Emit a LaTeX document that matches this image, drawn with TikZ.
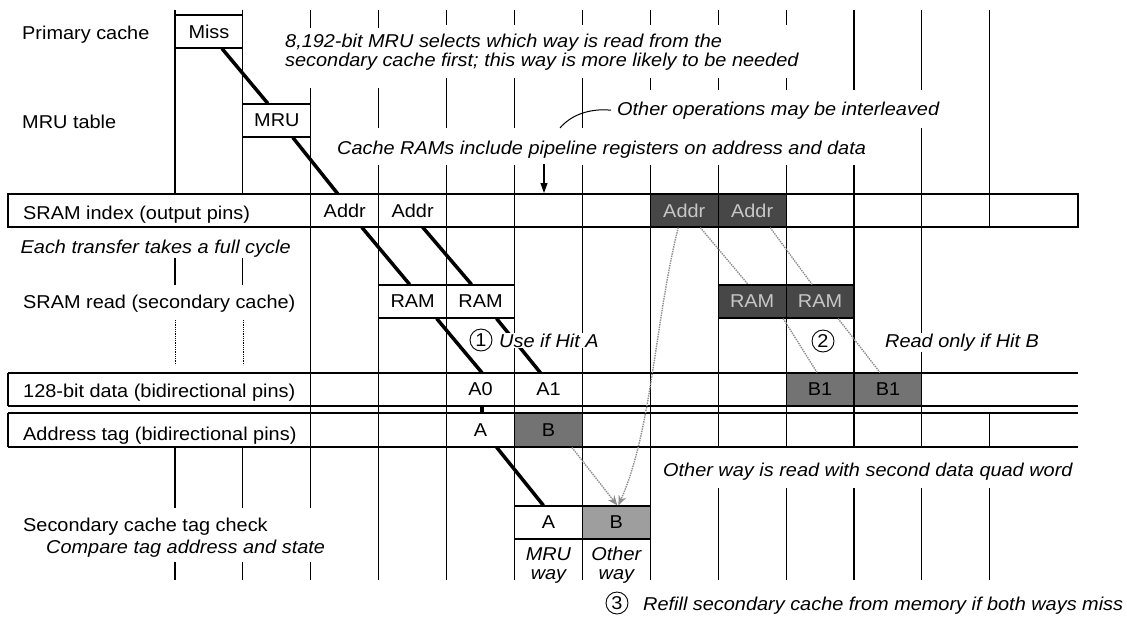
\documentclass[tikz,border=0pt]{standalone}
\usepackage{fontspec}
\setmainfont{Liberation Sans}[FakeStretch=1.07]
\usetikzlibrary{arrows.meta,calc}
\begin{document}
\begin{tikzpicture}[x=1pt,y=-1pt,
  every node/.style={font=\fontsize{18.6}{19}\selectfont, inner sep=0pt},
  grid/.style={line width=1.1pt, black},
  rowline/.style={line width=1.1pt, black},
  cell/.style={minimum width=67.9pt, minimum height=33pt, inner sep=0pt},
  bcell/.style={cell, draw, line width=1.1pt, fill=white},
  dark/.style={cell, draw, line width=1.1pt, fill=black!72, text=black!22},
  mid/.style={cell, draw, line width=1.1pt, fill=black!55},
  light/.style={cell, draw, line width=1.1pt, fill=black!38},
  lbl/.style={anchor=base west},
  note/.style={anchor=base west, font=\fontsize{18.6}{19}\selectfont\itshape},
  wnote/.style={note, fill=white, inner xsep=2pt, inner ysep=1pt},
  heavy/.style={line width=3.5pt},
  gline/.style={line width=1.4pt, black!45, densely dotted},
  garrow/.style={gline, -{Stealth[length=10pt,width=8pt]}},
  num/.style={circle, draw, line width=0.9pt, minimum size=22pt, inner sep=0pt},
  wayl/.style={anchor=base, align=center, font=\fontsize{18.6}{19}\selectfont\itshape},
]
\useasboundingbox (0,0) rectangle (1127,619);

% ---- vertical grid segments ----
\foreach \x in {175,242.9}{
  \draw[grid] (\x,10) -- (\x,194);
  \draw[grid] (\x,258) -- (\x,285);
  \draw[line width=0.8pt, densely dotted] (\x,320) -- (\x,365);
  \draw[grid] (\x,447) -- (\x,508);
  \draw[grid] (\x,562) -- (\x,580);
}
\draw[grid] (310.8,10) -- (310.8,28) (310.8,88) -- (310.8,508) (310.8,562) -- (310.8,580);
\draw[grid] (378.7,10) -- (378.7,28) (378.7,88) -- (378.7,128) (378.7,165) -- (378.7,580);
\foreach \x in {446.6,514.5,582.4}{
  \draw[grid] (\x,10) -- (\x,25) (\x,78) -- (\x,128) (\x,165) -- (\x,580);
}
\draw[grid] (650.3,10) -- (650.3,25) (650.3,78) -- (650.3,90) (650.3,165) -- (650.3,580);
\foreach \x in {718.2,786.1}{
  \draw[grid] (\x,10) -- (\x,25) (\x,78) -- (\x,90) (\x,165) -- (\x,447) (\x,488) -- (\x,580);
}
\draw[grid] (854,10) -- (854,90) (854,165) -- (854,447) (854,488) -- (854,580);
\draw[grid] (921.9,10) -- (921.9,90) (921.9,128) -- (921.9,447) (921.9,488) -- (921.9,580);
\draw[grid] (989.8,10) -- (989.8,227) (989.8,413) -- (989.8,447) (989.8,488) -- (989.8,580);

% ---- row boxes ----
\draw[rowline] (8,194) rectangle (1078,227);
\draw[rowline] (8,373) -- (1078,373) (8,406) -- (1078,406) (8,373) -- (8,406);
\draw[rowline] (8,413) -- (1078,413) (8,447) -- (1078,447) (8,413) -- (8,447);

% ---- cells ----
\node[bcell] (miss) at (208.95,31.5) {Miss};
\node[bcell] (mru) at (276.85,120.5) {MRU};
\node[cell] (addr1) at (344.75,210.5) {Addr};
\node[cell] (addr2) at (412.65,210.5) {Addr};
\node[dark] (addrb1) at (684.25,210.5) {Addr};
\node[dark] (addrb2) at (752.15,210.5) {Addr};
\node[bcell] (ram1) at (412.65,301.5) {RAM};
\node[bcell] (ram2) at (480.55,301.5) {RAM};
\node[dark] (ramb1) at (752.15,301.5) {RAM};
\node[dark] (ramb2) at (820.05,301.5) {RAM};
\node[cell] (a0) at (480.55,389.5) {A0};
\node[cell] (a1) at (548.45,389.5) {A1};
\node[mid] (b1a) at (820.05,389.5) {B1};
\node[mid] (b1b) at (887.95,389.5) {B1};
\node[cell, minimum height=34pt] (ta) at (480.55,430) {A};
\node[mid, minimum height=34pt] (tb) at (548.45,430) {B};
\node[bcell] (ca) at (548.45,522.5) {A};
\node[light] (cb) at (616.35,522.5) {B};

% ---- heavy path of MRU way ----
\draw[heavy] ([xshift=13pt]miss.south) -- ([xshift=-9pt]mru.north);
\draw[heavy] ([xshift=16pt]mru.south) -- ([xshift=-7pt]addr1.north);
\draw[heavy] ([xshift=17pt]addr1.south) -- ([xshift=-3pt]ram1.north);
\draw[heavy] ([xshift=10pt]addr2.south) -- ([xshift=-9pt]ram2.north);
\draw[heavy] ([xshift=24pt]ram1.south) -- ([xshift=1.5pt]a0.north);
\draw[heavy] ([xshift=16pt]ram2.south) -- ([xshift=-8pt]a1.north);
\draw[heavy] ([xshift=1.5pt]a0.south) -- ([xshift=1.5pt]ta.north);
\draw[heavy] ([xshift=16pt]ta.south) -- ([xshift=-5pt]ca.north);

% ---- gray path of other way ----
\draw[gline] ([xshift=16pt]addrb1.south) -- ([xshift=-4pt]ramb1.north);
\draw[gline] ([xshift=18pt]addrb2.south) -- ([xshift=-8pt]ramb2.north);
\draw[gline] ([xshift=31pt]ramb1.south) -- ([xshift=-3pt]b1a.north);
\draw[gline] ([xshift=18pt]ramb2.south) -- ([xshift=-8pt]b1b.north);
\draw[garrow] ([xshift=-6pt]addrb1.south) .. controls (655,320) and (652,430) .. ([xshift=2pt]cb.north);
\draw[garrow] ([xshift=23.5pt]tb.south) -- ([xshift=1pt]cb.north);

% ---- labels ----
\node[lbl] (lprim) at (22,39.5) {Primary cache};
\node[lbl] (lmru) at (22,128) {MRU table};
\node[lbl] (lidx) at (23,219) {SRAM index (output pins)};
\node[lbl] (lread) at (23,308) {SRAM read (secondary cache)};
\node[lbl] (ldata) at (23,397.5) {128-bit data (bidirectional pins)};
\node[lbl] (ltag) at (23,440) {Address tag (bidirectional pins)};
\node[lbl] (lchk) at (23,531) {Secondary cache tag check};

\node[note] (nmru1) at (285,47) {8,192-bit MRU selects which way is read from the};
\node[note] (nmru2) at (285,66) {secondary cache first; this way is more likely to be needed};
\node[note] (nother) at (617,115) {Other operations may be interleaved};
\node[note] (nram) at (337,154) {Cache RAMs include pipeline registers on address and data};
\node[note] (nfull) at (20.5,253) {Each transfer takes a full cycle};
\node[note] (ncmp) at (46,553) {Compare tag address and state};
\node[note] (nway) at (663,476) {Other way is read with second data quad word};

\node[wnote] (nhita) at (497,347) {Use if Hit A};
\node[num] (c1) at (481,340) {1};
\node[wnote] (nhitb) at (883,347) {Read only if Hit B};
\node[num] (c2) at (823,341) {2};
\node[num] (c3) at (617,603) {3};
\node[note] (nrefill) at (643,610) {Refill secondary cache from memory if both ways miss};

\node[wayl] (wmru) at (548.45,579) {MRU\\way};
\node[wayl] (wother) at (616.35,579) {Other\\way};

% ---- leader and pointer ----
\coordinate (leadend) at (560,128);
\draw[line width=1pt] ([xshift=-6pt]nother.west) .. controls (588,108) and (570,116) .. (leadend);
\coordinate (ptr) at (544,193);
\draw[line width=1.1pt, -{Triangle[length=10pt,width=7pt]}] (544,164) -- (ptr);
\end{tikzpicture}
\end{document}
